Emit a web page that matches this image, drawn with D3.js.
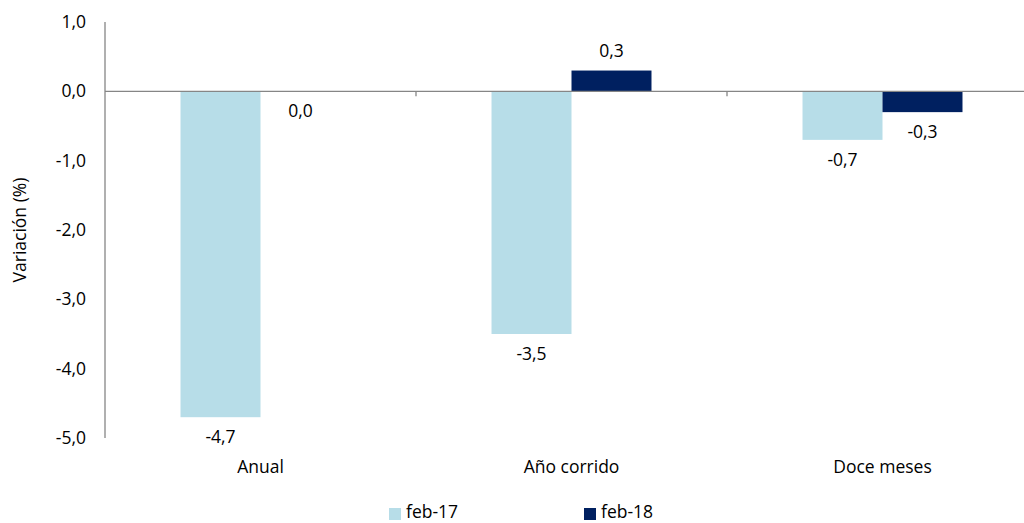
<!DOCTYPE html>
<html>
<head>
<meta charset="utf-8">
<script src="https://cdn.jsdelivr.net/npm/d3@7"></script>
<style>
  body { margin: 0; background: #fff; }
  text { font-family: "Open Sans", "Noto Sans", sans-serif; fill: #000; }
</style>
</head>
<body>
<div class="container"></div>
<script>
var categories = ["Anual", "Año corrido", "Doce meses"];
var seriesNames = ["feb-17", "feb-18"];
var feb17 = [-4.7, -3.5, -0.7];
var feb18 = [0.0, 0.3, -0.3];
var yTicks = [1, 0, -1, -2, -3, -4, -5];
var colours = ["#b7dde8", "#002060"];

var width = 1024,
    height = 523,
    margin = { top: 22, left: 105, bottom: 85 };

var fs = "17.5px";

var svg = d3.select(".container").append("svg")
    .attr("width", width)
    .attr("height", height);

var y = d3.scaleLinear()
    .domain([-5, 1])
    .range([438, margin.top]);

// category bands, each 311px wide (the last one runs off the right edge)
var x = d3.scaleBand()
    .domain(categories)
    .range([margin.left, margin.left + 311 * 3]);

var x1 = d3.scaleBand()
    .domain(seriesNames)
    .range([0, x.bandwidth()])
    .paddingInner(0)
    .paddingOuter(0.944);

var fmt = function(v) { return d3.format(".1f")(v).replace(".", ",").replace("\u2212", "-"); };

// y tick labels
svg.selectAll(".ytick")
  .data(yTicks)
  .enter().append("text")
    .attr("class", "ytick")
    .attr("x", 86)
    .attr("y", function(d) { return y(d); })
    .attr("dy", "0.35em")
    .attr("text-anchor", "end")
    .style("font-size", fs)
    .text(fmt);

svg.append("text")
    .attr("transform", "translate(20," + y(-2) + ") rotate(-90)")
    .attr("text-anchor", "middle")
    .attr("dy", "0.35em")
    .style("font-size", fs)
    .text("Variación (%)");

// bars
var rows = categories.map(function(c, i) {
  return [
    { cat: c, s: seriesNames[0], v: feb17[i] },
    { cat: c, s: seriesNames[1], v: feb18[i] }
  ];
});

var groups = svg.selectAll(".cat")
  .data(rows)
  .enter().append("g")
    .attr("transform", function(d) { return "translate(" + x(d[0].cat) + ",0)"; });

groups.selectAll("rect")
  .data(function(d) { return d; })
  .enter().append("rect")
    .attr("x", function(d) { return x1(d.s); })
    .attr("width", x1.bandwidth())
    .attr("y", function(d) { return y(Math.max(0, d.v)); })
    .attr("height", function(d) { return Math.abs(y(d.v) - y(0)); })
    .attr("fill", function(d, i) { return colours[i]; });

groups.selectAll(".lbl")
  .data(function(d) { return d; })
  .enter().append("text")
    .attr("class", "lbl")
    .attr("x", function(d) { return x1(d.s) + x1.bandwidth() / 2; })
    .attr("y", function(d) { return d.v > 0 ? y(d.v) - 20 : y(d.v) + 20; })
    .attr("dy", "0.35em")
    .attr("text-anchor", "middle")
    .style("font-size", fs)
    .text(function(d) { return fmt(d.v); });

// axes lines
svg.append("line")
    .attr("x1", margin.left).attr("x2", width)
    .attr("y1", y(0)).attr("y2", y(0))
    .attr("stroke", "#868686").attr("stroke-width", 1.3);

svg.append("line")
    .attr("x1", margin.left).attr("x2", margin.left)
    .attr("y1", y(1)).attr("y2", y(-5))
    .attr("stroke", "#868686").attr("stroke-width", 1.3);

svg.selectAll(".xtick")
  .data(categories.slice(1))
  .enter().append("line")
    .attr("x1", function(d) { return x(d); })
    .attr("x2", function(d) { return x(d); })
    .attr("y1", y(0)).attr("y2", y(0) + 5)
    .attr("stroke", "#868686").attr("stroke-width", 1.3);

// category labels
svg.selectAll(".cat-label")
  .data(categories)
  .enter().append("text")
    .attr("x", function(d) { return x(d) + x.bandwidth() / 2; })
    .attr("y", 467)
    .attr("dy", "0.35em")
    .attr("text-anchor", "middle")
    .style("font-size", fs)
    .text(function(d) { return d; });

// legend
var legendX = [389, 584];
var legend = svg.selectAll(".legend")
  .data(seriesNames)
  .enter().append("g")
    .attr("transform", function(d, i) { return "translate(" + legendX[i] + ",508)"; });

legend.append("rect")
    .attr("width", 12).attr("height", 12)
    .attr("fill", function(d, i) { return colours[i]; });

legend.append("text")
    .attr("x", 17).attr("y", 4)
    .attr("dy", "0.35em")
    .style("font-size", fs)
    .text(function(d) { return d; });
</script>
</body>
</html>
